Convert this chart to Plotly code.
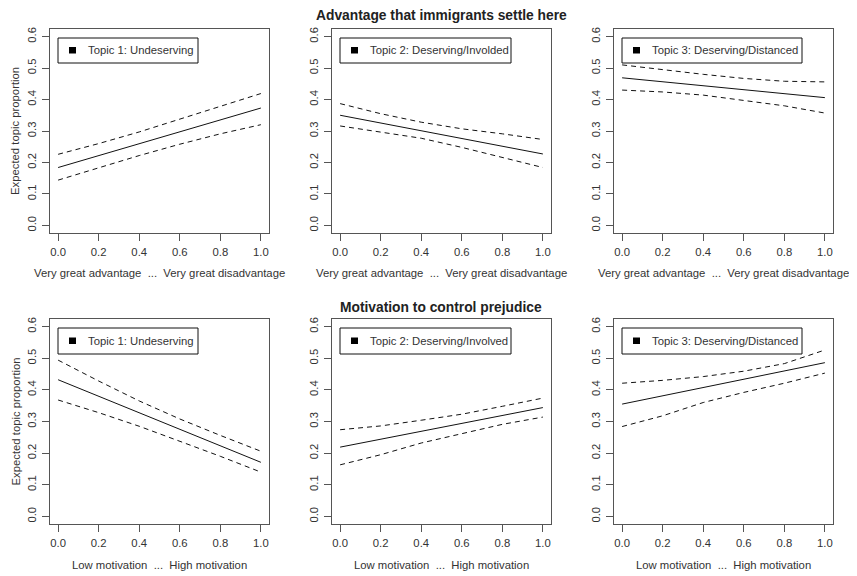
import plotly.graph_objects as go

# ---------------- data ----------------
x_vals = [0.0, 0.2, 0.4, 0.6, 0.8, 1.0]
x_ticks = [0.0, 0.2, 0.4, 0.6, 0.8, 1.0]
x_ticktext = ["0.0", "0.2", "0.4", "0.6", "0.8", "1.0"]
y_ticks = [0.0, 0.1, 0.2, 0.3, 0.4, 0.5, 0.6]
y_ticktext = ["0.0", "0.1", "0.2", "0.3", "0.4", "0.5", "0.6"]

row_titles = ["Advantage that immigrants settle here", "Motivation to control prejudice"]
row_xlabels = ["Very great advantage \u00a0...\u00a0 Very great disadvantage",
               "Low motivation \u00a0...\u00a0 High motivation"]
y_label = "Expected topic proportion"
topic_labels_top = ["Topic 1: Undeserving", "Topic 2: Deserving/Involded", "Topic 3: Deserving/Distanced"]
topic_labels_bottom = ["Topic 1: Undeserving", "Topic 2: Deserving/Involved", "Topic 3: Deserving/Distanced"]

adv_topic1_mean = [0.184, 0.222, 0.260, 0.297, 0.335, 0.373]
adv_topic1_upper = [0.226, 0.260, 0.297, 0.337, 0.377, 0.419]
adv_topic1_lower = [0.144, 0.183, 0.222, 0.258, 0.291, 0.320]

adv_topic2_mean = [0.350, 0.325, 0.301, 0.276, 0.252, 0.227]
adv_topic2_upper = [0.387, 0.355, 0.328, 0.307, 0.291, 0.273]
adv_topic2_lower = [0.316, 0.296, 0.277, 0.248, 0.216, 0.184]

adv_topic3_mean = [0.469, 0.456, 0.444, 0.431, 0.419, 0.406]
adv_topic3_upper = [0.510, 0.494, 0.480, 0.467, 0.458, 0.456]
adv_topic3_lower = [0.430, 0.424, 0.414, 0.398, 0.380, 0.357]

mot_topic1_mean = [0.432, 0.380, 0.328, 0.275, 0.223, 0.171]
mot_topic1_upper = [0.494, 0.428, 0.365, 0.308, 0.256, 0.206]
mot_topic1_lower = [0.368, 0.328, 0.285, 0.238, 0.190, 0.140]

mot_topic2_mean = [0.219, 0.244, 0.269, 0.294, 0.319, 0.344]
mot_topic2_upper = [0.274, 0.286, 0.304, 0.323, 0.348, 0.374]
mot_topic2_lower = [0.163, 0.195, 0.232, 0.262, 0.291, 0.314]

mot_topic3_mean = [0.355, 0.381, 0.407, 0.434, 0.460, 0.486]
mot_topic3_upper = [0.421, 0.430, 0.442, 0.459, 0.483, 0.526]
mot_topic3_lower = [0.284, 0.318, 0.360, 0.392, 0.421, 0.453]

panels = [
    (adv_topic1_mean, adv_topic1_upper, adv_topic1_lower),
    (adv_topic2_mean, adv_topic2_upper, adv_topic2_lower),
    (adv_topic3_mean, adv_topic3_upper, adv_topic3_lower),
    (mot_topic1_mean, mot_topic1_upper, mot_topic1_lower),
    (mot_topic2_mean, mot_topic2_upper, mot_topic2_lower),
    (mot_topic3_mean, mot_topic3_upper, mot_topic3_lower),
]

# ---------------- layout / style ----------------
# page body has an 8px margin, so the figure is drawn 8px smaller and
# all window-pixel positions are shifted by that offset
OFF = 8
W, H = 857 - OFF, 576 - OFF


def px_x(X):
    return (X - OFF) / W


def px_y(Y):
    return 1 - (Y - OFF) / H


col_px = [(50, 269), (332, 551), (614, 833)]
row_px = [(29, 233), (319, 524)]
title_y = [16, 307]
xlabel_y = [273, 565]
ylabel_x = 15
FONT = "Liberation Sans, Arial, Helvetica, sans-serif"
TXT = "#333333"
BOX = "#555555"
LINE = "#111111"
legend_w = [140, 171, 180]

fig = go.Figure()
shapes = []
annotations = []

for idx, (mean, upper, lower) in enumerate(panels):
    r, c = divmod(idx, 3)
    k = idx + 1
    xs = "" if k == 1 else str(k)
    xa, ya = "x" + xs, "y" + xs
    for vals, dash in ((mean, "solid"), (upper, "5px,4px"), (lower, "5px,4px")):
        fig.add_trace(go.Scatter(x=x_vals, y=vals, mode="lines", xaxis=xa, yaxis=ya,
                                 line=dict(color=LINE, width=1, dash=dash),
                                 showlegend=False, hoverinfo="skip"))
    l, rr = col_px[c]
    t, b = row_px[r]
    pw, ph = rr - l, b - t
    fig.layout["xaxis" + xs] = dict(
        domain=[px_x(l), px_x(rr)], anchor=ya, range=[-0.04, 1.04],
        tickvals=x_ticks, ticktext=x_ticktext, ticks="outside", ticklen=7,
        tickcolor=BOX, showline=True, mirror=True, linecolor=BOX, linewidth=1,
        showgrid=False, zeroline=False, tickfont=dict(family=FONT, size=11.3, color=TXT),
        ticklabelstandoff=1, automargin=False, fixedrange=True)
    fig.layout["yaxis" + xs] = dict(
        domain=[px_y(b), px_y(t)], anchor=xa, range=[-0.024, 0.624],
        tickvals=y_ticks, ticktext=y_ticktext, ticks="outside", ticklen=7,
        tickcolor=BOX, showline=True, mirror=True, linecolor=BOX, linewidth=1,
        showgrid=False, zeroline=False, tickangle=-90,
        tickfont=dict(family=FONT, size=11.3, color=TXT), automargin=False,
        ticklabelstandoff=1, fixedrange=True)

    # x-axis label under each panel
    annotations.append(dict(text=row_xlabels[r], xref="paper", yref="paper",
                            x=px_x((l + rr) / 2), y=px_y(xlabel_y[r]),
                            xanchor="center", yanchor="middle", showarrow=False,
                            font=dict(family=FONT, size=11.3, color=TXT)))
    # y-axis label on left panels
    if c == 0:
        annotations.append(dict(text=y_label, xref="paper", yref="paper",
                                x=px_x(ylabel_x), y=px_y((t + b) / 2), textangle=-90,
                                xanchor="center", yanchor="middle", showarrow=False,
                                font=dict(family=FONT, size=11.3, color=TXT)))

    # legend-like key box inside each panel
    lw = legend_w[c]
    lh = 25 if r == 0 else 26
    x0 = 8 / pw
    x1 = (8 + lw) / pw
    y0 = 1 - 9 / ph
    y1 = 1 - (9 + lh) / ph
    shapes.append(dict(type="rect", xref=xa + " domain", yref=ya + " domain",
                       x0=x0, x1=x1, y0=y1, y1=y0, line=dict(color=LINE, width=1),
                       fillcolor="white", layer="above"))
    ymid = 9 + lh / 2
    shapes.append(dict(type="rect", xref=xa + " domain", yref=ya + " domain",
                       x0=(8 + 11) / pw, x1=(8 + 18) / pw,
                       y0=1 - (ymid - 3.5) / ph, y1=1 - (ymid + 3) / ph,
                       line=dict(color="black", width=0), fillcolor="black", layer="above"))
    labels = topic_labels_top if r == 0 else topic_labels_bottom
    annotations.append(dict(text=labels[c], xref=xa + " domain", yref=ya + " domain",
                            x=(8 + 28) / pw, y=1 - ymid / ph, xanchor="left", yanchor="middle",
                            showarrow=False, font=dict(family=FONT, size=11.3, color=TXT)))

# row titles
for ttl, yc in zip(row_titles, title_y):
    annotations.append(dict(text="<b>" + ttl + "</b>", xref="paper", yref="paper",
                            x=px_x((332 + 551) / 2), y=px_y(yc), xanchor="center", yanchor="middle",
                            showarrow=False, font=dict(family=FONT, size=13.8, color="#222222")))

fig.update_layout(
    width=W, height=H, margin=dict(l=0, r=0, t=0, b=0),
    paper_bgcolor="white", plot_bgcolor="white",
    shapes=shapes, annotations=annotations, showlegend=False,
    font=dict(family=FONT, color=TXT),
)

fig.write_html("out.html", config={"displayModeBar": False})
